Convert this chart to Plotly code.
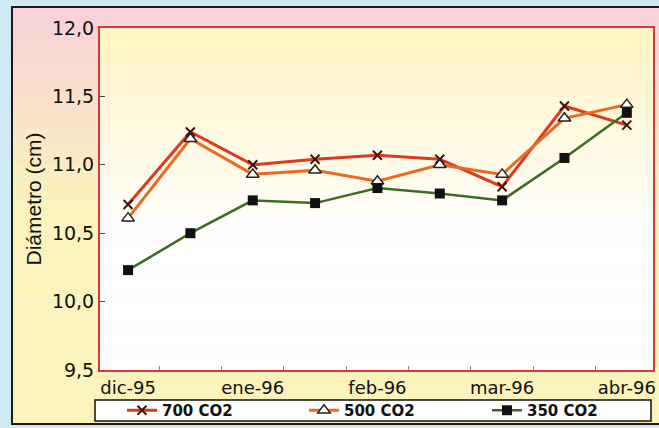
import plotly.graph_objects as go

# ---- data ----
categories = ["dic-95", "dic-95b", "ene-96", "ene-96b", "feb-96", "feb-96b", "mar-96", "mar-96b", "abr-96"]
tick_labels = ["dic-95", "", "ene-96", "", "feb-96", "", "mar-96", "", "abr-96"]
co2_700 = [10.71, 11.24, 11.00, 11.04, 11.07, 11.04, 10.84, 11.43, 11.29]
co2_500 = [10.61, 11.19, 10.93, 10.96, 10.88, 11.00, 10.93, 11.34, 11.44]
co2_350 = [10.23, 10.50, 10.74, 10.72, 10.83, 10.79, 10.74, 11.05, 11.38]
series_names = ["700 CO2", "500 CO2", "350 CO2"]

W, H = 659, 428
ML, MR, MT, MB = 100, 6, 28, 58
PW, PH = W - ML - MR, H - MT - MB

def px_x(px):
    return (px - ML) / PW

def px_y(py):
    return (H - MB - py) / PH

def blend(c1, c2, t):
    return "rgb(%d,%d,%d)" % tuple(round(a + (b - a) * t) for a, b in zip(c1, c2))

shapes = []
# outer frame gradient (pink top -> yellow)
fx0, fx1, fy_top, fy_bot = 12, 672, 7, 424
n = 24
pink = (248, 210, 216)
yellow = (251, 242, 188)
for i in range(n):
    t0 = fy_top + (fy_bot - fy_top) * i / n
    t1 = fy_top + (fy_bot - fy_top) * (i + 1) / n
    t = min(1.0, (i / n) / 0.45)
    shapes.append(dict(type="rect", xref="paper", yref="paper",
                       x0=px_x(fx0), x1=px_x(fx1), y0=px_y(t1), y1=px_y(t0),
                       fillcolor=blend(pink, yellow, t), line=dict(width=0), layer="below"))
shapes.append(dict(type="rect", xref="paper", yref="paper",
                   x0=px_x(fx0), x1=px_x(fx1), y0=px_y(fy_bot), y1=px_y(fy_top),
                   fillcolor="rgba(0,0,0,0)", line=dict(color="#1a1a1a", width=2), layer="below"))
# plot area gradient (light yellow top -> white)
m = 30
top_c = (255, 244, 196)
white = (255, 255, 255)
for i in range(m):
    y0 = i / m
    y1 = (i + 1) / m
    t = min(1.0, (1 - y1) / 0.6)
    shapes.append(dict(type="rect", xref="paper", yref="paper",
                       x0=0, x1=1, y0=y0, y1=y1,
                       fillcolor=blend(top_c, white, t), line=dict(width=0), layer="below"))
# legend box
shapes.append(dict(type="rect", xref="paper", yref="paper",
                   x0=px_x(95), x1=px_x(651), y0=px_y(421), y1=px_y(400),
                   fillcolor="white", line=dict(color="#111111", width=1.5), layer="below"))

fig = go.Figure()
fig.add_trace(go.Scatter(
    x=categories, y=co2_700, name=series_names[0], mode="lines+markers", legend="legend",
    line=dict(color="#dc3a1c", width=3),
    marker=dict(symbol="x-thin", size=9, color="#3a1410", line=dict(color="#3a1410", width=2)),
))
fig.add_trace(go.Scatter(
    x=categories, y=co2_500, name=series_names[1], mode="lines+markers", legend="legend2",
    line=dict(color="#ea6a22", width=3),
    marker=dict(symbol="triangle-up", size=11, color="white", line=dict(color="#222222", width=1.5)),
))
fig.add_trace(go.Scatter(
    x=categories, y=co2_350, name=series_names[2], mode="lines+markers", legend="legend3",
    line=dict(color="#3d6b22", width=2.5),
    marker=dict(symbol="square", size=10, color="#111111", line=dict(color="#111111", width=0)),
))

def leg(text_px):
    return dict(
        orientation="h", x=px_x(text_px - 43), y=px_y(410.5), xanchor="left", yanchor="middle",
        bgcolor="rgba(0,0,0,0)", borderwidth=0,
        font=dict(family="DejaVu Sans", size=15, color="#111111", weight="bold"),
    )

fig.update_layout(
    width=W, height=H,
    margin=dict(l=ML, r=MR, t=MT, b=MB, pad=0, autoexpand=False),
    paper_bgcolor="#cfeaf2",
    plot_bgcolor="rgba(0,0,0,0)",
    separators=",.",
    font=dict(family="DejaVu Sans", size=18, color="#111111"),
    shapes=shapes,
    showlegend=True,
    legend=leg(165),
    legend2=leg(347),
    legend3=leg(530),
)
fig.update_xaxes(
    type="category", categoryorder="array", categoryarray=categories,
    tickmode="array", tickvals=categories, ticktext=tick_labels, tickangle=0,
    range=[-0.45, 8.42], tickson="boundaries",
    ticks="inside", ticklen=4, tickcolor="#888888", tickwidth=1,
    showline=True, linecolor="#d8383a", linewidth=2, mirror=True,
    showgrid=False, zeroline=False, automargin=False,
    tickfont=dict(family="DejaVu Sans", size=18, color="#111111"),
)
fig.update_yaxes(
    range=[9.5, 12.0], tickmode="array", tickvals=[9.5, 10.0, 10.5, 11.0, 11.5, 12.0],
    tickformat=".1f",
    ticks="inside", ticklen=5, tickcolor="#444444", tickwidth=1,
    showline=True, linecolor="#d8383a", linewidth=2, mirror=True,
    showgrid=False, zeroline=False, automargin=False,
    tickfont=dict(family="DejaVu Sans", size=19, color="#111111"),
    title=dict(text="Diámetro (cm)", font=dict(family="Liberation Sans", size=21, color="#111111"), standoff=5),
)

fig.write_html(
    "out.html",
    config={"displayModeBar": False},
    post_script="document.body.style.margin='0';document.body.style.padding='0';document.body.style.background='#cfeaf2';",
)
